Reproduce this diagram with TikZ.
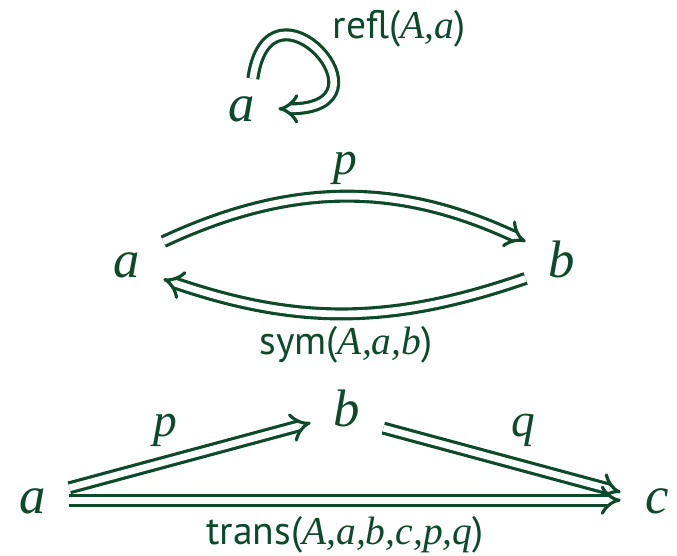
\documentclass[tikz,border=0pt]{standalone}
\usepackage{fontspec}
\setmainfont{PT Sans}
\newfontfamily\varfont{Liberation Serif}
\usepackage{tikz}
\usetikzlibrary{arrows.meta}
\definecolor{greenx}{HTML}{0C4A2B}
\newcommand{\vv}[1]{{\varfont\itshape #1}}
\tikzset{
  obj/.style={text=greenx,font=\fontsize{30}{30}\selectfont\varfont\itshape,inner sep=0pt,
    minimum width=1.44cm,minimum height=1.32cm,text height=14pt,text depth=2.7pt},
  ar/.style={draw=greenx,line width=1.8pt,double,double distance=3.8pt,-{Implies}},
  lab/.style={text=greenx,font=\fontsize{22.5}{22.5}\selectfont,inner sep=0pt},
  var/.style={text=greenx,font=\fontsize{27}{27}\selectfont\varfont\itshape,inner sep=0pt}
}
\begin{document}
\begin{tikzpicture}[x=0.2mm,y=0.2mm]
\useasboundingbox (0,0) rectangle (677,555);
% refl
\node[obj] (ra) at (242,443) {a};
\draw[ar] (ra.72) .. controls +(82:115) and +(0:122) .. (ra.5);
\node[lab] (lr) at (399,526) {refl(\vv{A,a})};
% sym
\node[obj] (sa) at (127,287) {a};
\node[obj] (sb) at (562,287) {b};
\draw[ar] (sa.36) to[bend left=25] (sb.144);
\draw[ar] (sb.196) to[bend left=19] (sa.-17);
\node[var] (lp) at (345,387) {p};
\node[lab] (ls) at (346,210) {sym(\vv{A,a,b})};
% trans
\node[obj] (ta) at (33,51) {a};
\node[obj] (tb) at (347,138) {b};
\node[obj] (tc) at (657,51) {c};
\draw[ar] (ta.24) -- (tb.189);
\draw[ar] (tb.-17) -- (tc.162);
\draw[ar] (ta.6) -- (tc.174);
\node[var] (tp) at (165,125) {p};
\node[var] (tq) at (523,125) {q};
\node[lab] (lt) at (345,20) {trans(\vv{A,a,b,c,p,q})};
\end{tikzpicture}
\end{document}
